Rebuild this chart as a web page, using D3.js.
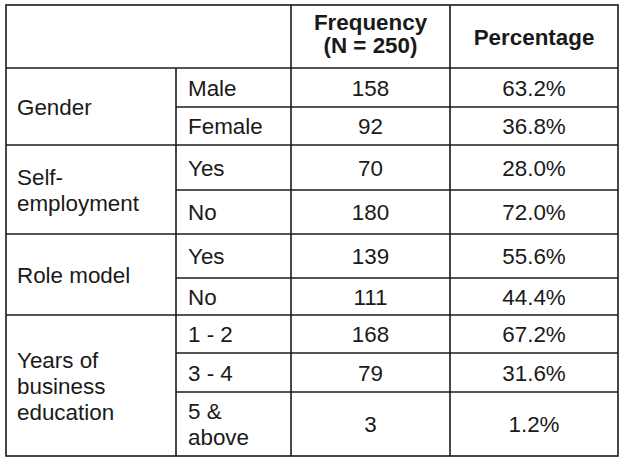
<!DOCTYPE html>
<html>
<head>
<meta charset="utf-8">
<script src="https://cdn.jsdelivr.net/npm/d3@7"></script>
<style>
  body { margin: 0; background: #fff; }
  text { font-family: "Liberation Sans", Arial, sans-serif; fill: #1a1a1a; }
</style>
</head>
<body>
<div id="chart"></div>
<script>
// table data
const headers = [["Frequency", "(N = 250)"], ["Percentage"]];
const groups = [["Gender"], ["Self-", "employment"], ["Role model"], ["Years of", "business", "education"]];
const groupSize = [2, 2, 2, 3];
const categories = [["Male"], ["Female"], ["Yes"], ["No"], ["Yes"], ["No"], ["1 - 2"], ["3 - 4"], ["5 &", "above"]];
const frequency = [158, 92, 70, 180, 139, 111, 168, 79, 3];
const percentage = [63.2, 36.8, 28.0, 72.0, 55.6, 44.4, 67.2, 31.6, 1.2];

const width = 623, height = 461;
// layout: column edges and row heights
const colX = [6, 176, 291, 450, 618];
const tableTop = 5, headH = 63;
const rowH = [39, 38, 45, 44, 44, 37, 38, 39, 64];
const rowY = [tableTop + headH, ...d3.cumsum(rowH).map(d => tableTop + headH + d)];
const lineH = 26;
const fmtPct = d3.format(".1f");

const svg = d3.select('#chart').append('svg')
  .attr('width', width)
  .attr('height', height);

// multi-line text centred vertically at cy
function label(g, lines, x, cy, anchor, lh, weight) {
  const t = g.append('text')
    .attr('x', x)
    .attr('text-anchor', anchor)
    .attr('font-size', '22.4px')
    .attr('font-weight', weight || 'normal');
  const y0 = cy + 8 - (lines.length - 1) * lh / 2;
  lines.forEach((s, i) => t.append('tspan').attr('x', x).attr('y', y0 + i * lh).text(s));
}

const gLines = svg.append('g')
  .attr('stroke', '#1a1a1a')
  .attr('stroke-width', 1.6)
  .attr('fill', 'none');

// outer frame
gLines.append('rect')
  .attr('x', colX[0]).attr('y', tableTop)
  .attr('width', colX[4] - colX[0])
  .attr('height', rowY[rowY.length - 1] - tableTop);

// vertical lines (column 1 line starts below the header)
gLines.append('line').attr('x1', colX[1]).attr('x2', colX[1]).attr('y1', rowY[0]).attr('y2', rowY[rowY.length - 1]);
[colX[2], colX[3]].forEach(x => {
  gLines.append('line').attr('x1', x).attr('x2', x).attr('y1', tableTop).attr('y2', rowY[rowY.length - 1]);
});

// horizontal lines
const groupStart = [0, ...d3.cumsum(groupSize)];
rowY.slice(0, -1).forEach((y, i) => {
  const full = groupStart.includes(i);
  gLines.append('line')
    .attr('x1', full ? colX[0] : colX[1]).attr('x2', colX[4])
    .attr('y1', y).attr('y2', y);
});

const gText = svg.append('g');

// header
label(gText, headers[0], (colX[2] + colX[3]) / 2, 33.5, 'middle', 23, 'bold');
label(gText, headers[1], (colX[3] + colX[4]) / 2, (tableTop + rowY[0]) / 2, 'middle', 23, 'bold');

// group labels
groups.forEach((lines, i) => {
  const y1 = rowY[groupStart[i]], y2 = rowY[groupStart[i + 1]];
  label(gText, lines, colX[0] + 11, (y1 + y2) / 2, 'start', lineH);
});

// rows
categories.forEach((lines, i) => {
  const cy = (rowY[i] + rowY[i + 1]) / 2;
  label(gText, lines, colX[1] + 12, cy, 'start', lineH);
  label(gText, [String(frequency[i])], (colX[2] + colX[3]) / 2, cy, 'middle', lineH);
  label(gText, [fmtPct(percentage[i]) + '%'], (colX[3] + colX[4]) / 2, cy, 'middle', lineH);
});
</script>
</body>
</html>
